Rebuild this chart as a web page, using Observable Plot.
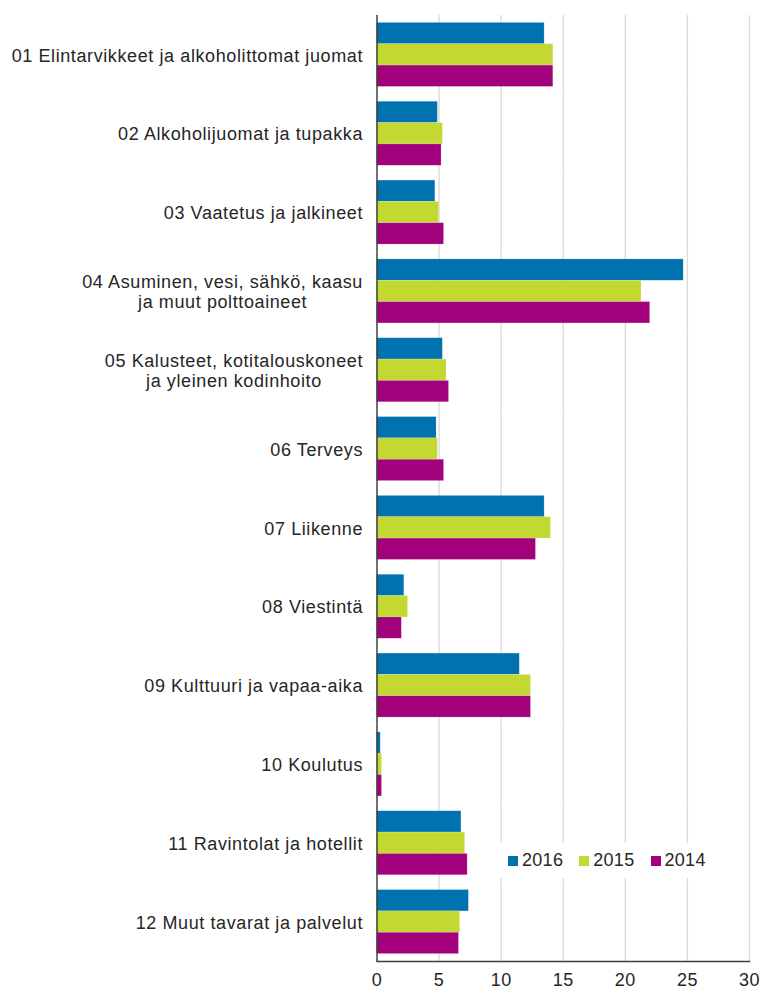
<!DOCTYPE html>
<html>
<head>
<meta charset="utf-8">
<script src="https://cdn.jsdelivr.net/npm/d3@7"></script>
<script src="https://cdn.jsdelivr.net/npm/@observablehq/plot@0.6"></script>
<style>
  body { margin: 0; background: #fff; font-family: "Liberation Sans", Arial, sans-serif; }
  #wrap { position: relative; width: 763px; height: 991px; }
  #legend { position: absolute; left: 500px; top: 843px; width: 218px; height: 35px; background: #fff;
            display: flex; align-items: center; padding-left: 8px; box-sizing: border-box;
            font-size: 18px; color: #262626; letter-spacing: 0.3px; }
  .item { display: flex; align-items: center; margin-right: 16px; }
  .sw { width: 10px; height: 10px; margin-right: 4px; }
  g[aria-label="fy-axis tick label"] text { letter-spacing: 0.6px; }
  g[aria-label="x-axis tick label"] text { letter-spacing: 0.5px; }
</style>
</head>
<body>
<div id="wrap"></div>
<script>
const categories = [
  "01 Elintarvikkeet ja alkoholittomat juomat",
  "02 Alkoholijuomat ja tupakka",
  "03 Vaatetus ja jalkineet",
  "04 Asuminen, vesi, sähkö, kaasu\nja muut polttoaineet",
  "05 Kalusteet, kotitalouskoneet\nja yleinen kodinhoito",
  "06 Terveys",
  "07 Liikenne",
  "08 Viestintä",
  "09 Kulttuuri ja vapaa-aika",
  "10 Koulutus",
  "11 Ravintolat ja hotellit",
  "12 Muut tavarat ja palvelut"
];
const years = ["2016", "2015", "2014"];
const values2016 = [13.5, 4.9, 4.7, 24.7, 5.3, 4.8, 13.5, 2.2, 11.5, 0.3, 6.8, 7.4];
const values2015 = [14.2, 5.3, 5.0, 21.3, 5.6, 4.9, 14.0, 2.5, 12.4, 0.4, 7.1, 6.7];
const values2014 = [14.2, 5.2, 5.4, 22.0, 5.8, 5.4, 12.8, 2.0, 12.4, 0.4, 7.3, 6.6];
const colors = ["#0072b0", "#c3d831", "#a3007c"];
const xTicks = [0, 5, 10, 15, 20, 25, 30];

const series = [values2016, values2015, values2014];
const data = [];
categories.forEach((c, i) => {
  years.forEach((y, j) => data.push({category: c, year: y, value: series[j][i]}));
});

const plot = Plot.plot({
  width: 763,
  height: 991,
  marginLeft: 376.5,
  marginRight: 14,
  marginTop: 15,
  marginBottom: 30,
  style: {fontFamily: '"Liberation Sans", Arial, sans-serif', fontSize: "18px", color: "#262626", background: "#fff"},
  x: {domain: [0, 30], ticks: xTicks, axis: null},
  fy: {domain: categories, padding: 0, round: false, axis: null},
  y: {domain: years, paddingInner: 0, paddingOuter: 0.347, round: false, axis: null},
  color: {domain: years, range: colors},
  marks: [
    Plot.gridX(xTicks.filter(d => d > 0), {stroke: "#d9d9d9", strokeOpacity: 1, strokeWidth: 1.3}),
    Plot.barX(data, {fy: "category", y: "year", x: "value", fill: "year", stroke: "#fff", strokeOpacity: 0.3, strokeWidth: 0.6}),
    Plot.ruleX([0], {stroke: "#404040", strokeWidth: 1.5}),
    Plot.frame({anchor: "bottom", facetAnchor: "bottom", stroke: "#404040", strokeWidth: 1.5}),
    Plot.axisX(xTicks, {tickSize: 0, tickPadding: 12, fontSize: 18, fill: "#262626", label: null}),
    Plot.axisFy({anchor: "left", tickSize: 0, tickPadding: 14, fontSize: 18, lineHeight: 1.15, fill: "#262626", label: null})
  ]
});

const wrap = document.getElementById("wrap");
wrap.append(plot);

// center the second line of two-line category labels under the first (as in the reference)
plot.querySelectorAll("text").forEach(t => {
  const spans = t.querySelectorAll("tspan");
  if (spans.length > 1) {
    const w = t.getBBox().width;
    t.setAttribute("text-anchor", "middle");
    spans.forEach(s => s.setAttribute("x", -w / 2));
  }
});

const legend = document.createElement("div");
legend.id = "legend";
years.forEach((y, i) => {
  const it = document.createElement("div");
  it.className = "item";
  const sw = document.createElement("div");
  sw.className = "sw";
  sw.style.background = colors[i];
  const tx = document.createElement("span");
  tx.textContent = y;
  it.append(sw, tx);
  legend.append(it);
});
wrap.append(legend);
</script>
</body>
</html>
